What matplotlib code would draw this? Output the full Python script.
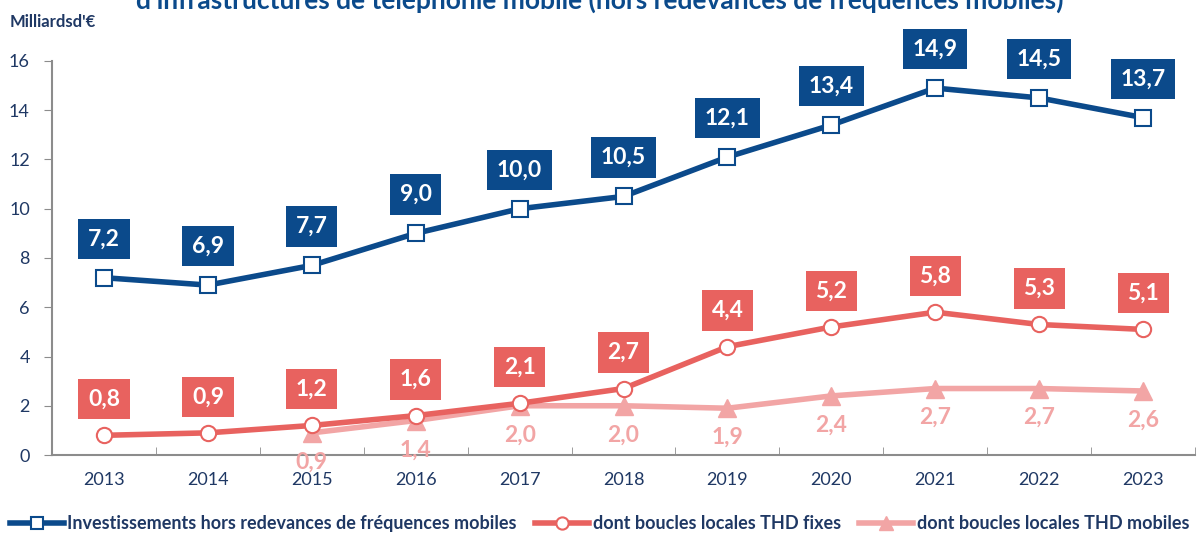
import matplotlib
matplotlib.use('Agg')
import matplotlib.pyplot as plt

# data
years = ['2013', '2014', '2015', '2016', '2017', '2018', '2019', '2020', '2021', '2022', '2023']
invest = [7.2, 6.9, 7.7, 9.0, 10.0, 10.5, 12.1, 13.4, 14.9, 14.5, 13.7]
fixes = [0.8, 0.9, 1.2, 1.6, 2.1, 2.7, 4.4, 5.2, 5.8, 5.3, 5.1]
mobiles_years = ['2015', '2016', '2017', '2018', '2019', '2020', '2021', '2022', '2023']
mobiles = [0.9, 1.4, 2.0, 2.0, 1.9, 2.4, 2.7, 2.7, 2.6]

blue = '#0B4A8B'
red = '#E8625F'
pink = '#F2A5A5'
navy = '#1F3864'

plt.rcParams['font.family'] = ['Lato', 'DejaVu Sans']

fig = plt.figure(figsize=(11.99, 5.33), dpi=100)
ax = fig.add_axes([0.0434, 0.1463, 0.9533, 0.7393])

x = list(range(len(years)))
xm = [years.index(y) for y in mobiles_years]

ax.plot(xm, mobiles, color=pink, lw=4, marker='^', ms=13,
        markerfacecolor=pink, markeredgecolor=pink, zorder=3,
        label='dont boucles locales THD mobiles')
ax.plot(x, fixes, color=red, lw=4, marker='o', ms=11,
        markerfacecolor='white', markeredgecolor=red, markeredgewidth=1.5, zorder=4,
        label='dont boucles locales THD fixes')
ax.plot(x, invest, color=blue, lw=4, marker='s', ms=11,
        markerfacecolor='white', markeredgecolor=blue, markeredgewidth=1.5, zorder=5,
        label='Investissements hors redevances de fréquences mobiles')

def fmt(v):
    return ('%.1f' % v).replace('.', ',')

for i, v in zip(x, invest):
    ax.annotate(fmt(v), (i, v), xytext=(0, 28), textcoords='offset points',
                ha='center', va='center', color='white', fontsize=16.5, fontweight='bold',
                bbox=dict(boxstyle='square,pad=0.42', fc=blue, ec='none'))
for i, v in zip(x, fixes):
    ax.annotate(fmt(v), (i, v), xytext=(0, 26), textcoords='offset points',
                ha='center', va='center', color='white', fontsize=16.5, fontweight='bold',
                bbox=dict(boxstyle='square,pad=0.42', fc=red, ec='none'))
for i, v in zip(xm, mobiles):
    ax.annotate(fmt(v), (i, v), xytext=(0, -21), textcoords='offset points',
                ha='center', va='center', color=pink, fontsize=16.5, fontweight='bold')

ax.set_xlim(-0.5, len(years) - 0.5)
ax.set_ylim(0, 16)
ax.set_yticks(range(0, 17, 2))
ax.set_xticks(x)
ax.set_xticklabels(years)
ax.set_xticks([i + 0.5 for i in range(-1, len(years))], minor=True)
ax.tick_params(axis='x', which='major', length=0, pad=12, labelsize=13, labelcolor=navy)
ax.tick_params(axis='x', which='minor', length=6, color='#8C8C8C', direction='in')
ax.tick_params(axis='y', length=6, color='#8C8C8C', labelsize=13, labelcolor=navy, pad=10)
for s in ['top', 'right']:
    ax.spines[s].set_visible(False)
ax.spines['left'].set_color('#8C8C8C')
ax.spines['bottom'].set_color('#8C8C8C')
ax.spines['left'].set_linewidth(1.5)
ax.spines['bottom'].set_linewidth(1.5)

fig.text(0.008, 0.958, "Milliardsd'€", color=navy, fontsize=12, fontweight='bold',
         ha='left', va='center')
fig.text(0.5, 1.0, "d'infrastructures de téléphonie mobile (hors redevances de fréquences mobiles)",
         color=blue, fontsize=19, fontweight='bold', ha='center', va='center')

h, l = ax.get_legend_handles_labels()
leg = fig.legend(h[::-1], l[::-1], loc='center', bbox_to_anchor=(0.5, 0.018), ncol=3,
                 frameon=False, handlelength=3.0, columnspacing=1.0, markerscale=0.8,
                 handletextpad=0.2, prop={'weight': 'bold', 'size': 13})
for t in leg.get_texts():
    t.set_color(navy)

fig.savefig('out.png', dpi=100)
